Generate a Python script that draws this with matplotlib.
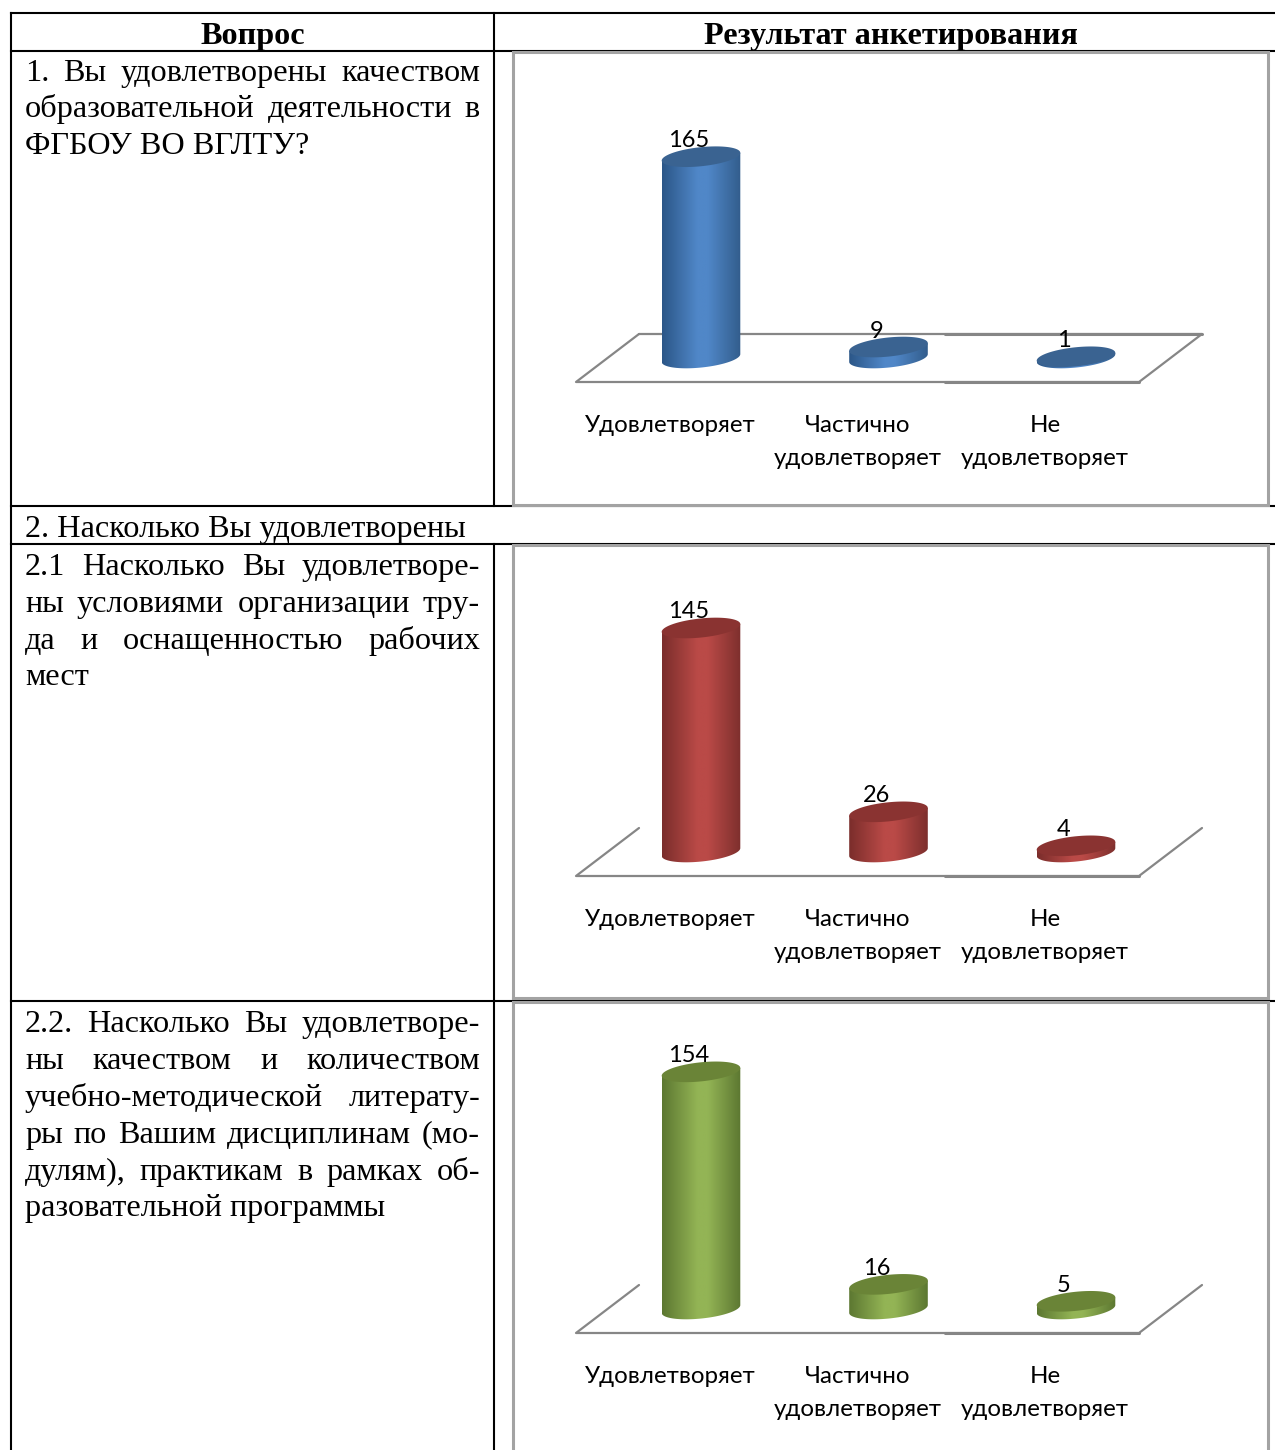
import numpy as np
import matplotlib
matplotlib.use("Agg")
import matplotlib.pyplot as plt
from matplotlib.colors import LinearSegmentedColormap
from matplotlib.patches import Polygon

W, H = 1275, 1450
SERIF = "Liberation Serif"
SANS = ["Lato", "Open Sans", "DejaVu Sans"]

categories = ["Удовлетворяет", "Частично\nудовлетворяет", "Не\nудовлетворяет"]
values_q1 = [165, 9, 1]
values_q21 = [145, 26, 4]
values_q22 = [154, 16, 5]

header_left = "Вопрос"
header_right = "Результат анкетирования"
question_1 = ["1. Вы удовлетворены качеством", "образовательной деятельности в", "ФГБОУ ВО ВГЛТУ?"]
question_2 = ["2. Насколько Вы удовлетворены"]
question_21 = ["2.1 Насколько Вы удовлетворе-", "ны условиями организации тру-",
               "да и оснащенностью рабочих", "мест"]
question_22 = ["2.2. Насколько Вы удовлетворе-", "ны качеством и количеством",
               "учебно-методической литерату-", "ры по Вашим дисциплинам (мо-",
               "дулям), практикам в рамках об-", "разовательной программы"]

blue = dict(edge="#2b5687", mid="#5087c8", right="#325d8c", top="#3a6391")
red = dict(edge="#7a2d2b", mid="#ba4a47", right="#7d2f2d", top="#8a3331")
green = dict(edge="#5c7731", mid="#93b455", right="#5c7731", top="#6a8437")

fig = plt.figure(figsize=(W / 100, H / 100), dpi=100, facecolor="white")
page = fig.add_axes([0, 0, 1, 1], zorder=0)
page.set_xlim(0, W)
page.set_ylim(H, 0)
page.axis("off")

# table rules
BLACK = dict(color="black", lw=1.5, solid_capstyle="projecting")
for y in (13, 51, 506, 544, 1001):
    page.plot([11, W], [y, y], **BLACK)
page.plot([11, 11], [13, H], **BLACK)
page.plot([494, 494], [13, 506], **BLACK)
page.plot([494, 494], [544, H], **BLACK)

# table text
fig.canvas.draw()
renderer = fig.canvas.get_renderer()
FS = 23.2
LEFT, RIGHT = 25, 480


def put_lines(lines, baselines, justify_last=False):
    for i, (line, yb) in enumerate(zip(lines, baselines)):
        last = i == len(lines) - 1
        if last and not justify_last:
            page.text(LEFT, yb, line, family=SERIF, fontsize=FS, va="baseline", ha="left", color="black")
            continue
        words = line.split(" ")
        items = [page.text(0, yb, w, family=SERIF, fontsize=FS, va="baseline", ha="left", color="black")
                 for w in words]
        widths = [t.get_window_extent(renderer).width for t in items]
        gap = (RIGHT - LEFT - sum(widths)) / max(len(words) - 1, 1)
        x = LEFT
        for t, w in zip(items, widths):
            t.set_x(x)
            x += w + gap


page.text(253, 43.7, header_left, family=SERIF, fontsize=FS, weight="bold", ha="center", va="baseline")
page.text(891, 43.7, header_right, family=SERIF, fontsize=FS, weight="bold", ha="center", va="baseline")
put_lines(question_1, [80.7, 117.4, 154.1])
put_lines(question_2, [536.7])
put_lines(question_21, [574.7, 611.7, 648.7, 684.7])
put_lines(question_22, [1031.7, 1068.7, 1105.7, 1142.7, 1179.7, 1215.7])

# chart geometry, in pixels
PX_LEFT, PX_RIGHT = 513, 1268
PX_X0, PX_STEP = 701, 187.5
SEMI_A, SEMI_B, TILT = 39.5, 9.5, np.deg2rad(6)
DEPTH = 24
FLOOR_L, FLOOR_R, SHIFT, SEAM = 576, 1139, 63, 945
LABEL_SHIFT = -31


def ellipse(cx, yv, sx, sy):
    t = np.linspace(0, 2 * np.pi, 181)
    ex = SEMI_A * np.cos(t) * np.cos(TILT) - SEMI_B * np.sin(t) * np.sin(TILT)
    ey = SEMI_A * np.cos(t) * np.sin(TILT) + SEMI_B * np.sin(t) * np.cos(TILT)
    return cx + ex / sx, yv + ey / sy


def chart(values, pal, panel_top, floor_px, scale, back_line):
    panel_bottom = min(panel_top + 453, H + 20)
    page.plot([PX_LEFT, PX_LEFT, PX_RIGHT, PX_RIGHT, PX_LEFT] if panel_bottom < H else [PX_LEFT, PX_LEFT, PX_RIGHT, PX_RIGHT],
              [panel_bottom, panel_top, panel_top, panel_bottom, panel_bottom] if panel_bottom < H else [panel_bottom, panel_top, panel_top, panel_bottom],
              color="#a3a3a3", lw=2.2, solid_joinstyle="miter")
    ax = fig.add_axes([PX_LEFT / W, 1 - floor_px / H, (PX_RIGHT - PX_LEFT) / W, (floor_px - panel_top) / H],
                      zorder=2)
    ax.patch.set_alpha(0)
    xlim = ((PX_LEFT - PX_X0) / PX_STEP, (PX_RIGHT - PX_X0) / PX_STEP)
    ylim = (-DEPTH / scale, (floor_px - DEPTH - panel_top) / scale)
    sx, sy = PX_STEP, scale

    # floor
    fl, fr = (FLOOR_L - PX_X0) / sx, (FLOOR_R - PX_X0) / sx
    seam = (SEAM - PX_X0) / sx
    dx, dy = SHIFT / sx, 2 * DEPTH / sy
    front = -DEPTH / sy
    gray = dict(color="#868686", lw=1.6, clip_on=False, solid_capstyle="round", zorder=1)
    ax.plot([fl + dx, fl, fr, fr + dx], [front + dy, front, front, front + dy], **gray)
    heavy = dict(gray, lw=2.2)
    ax.plot([seam, fr], [front, front], **heavy)
    if back_line:
        ax.plot([fl + dx, fr + dx], [front + dy, front + dy], **gray)
        ax.plot([seam, fr + dx], [front + dy, front + dy], **heavy)

    cmap = LinearSegmentedColormap.from_list(
        "c", [(0, pal["edge"]), (0.45, pal["mid"]), (0.58, pal["mid"]), (1, pal["right"])])
    grad = cmap(np.linspace(0, 1, 256))[None, :, :3]
    for i, v in enumerate(values):
        bx, by = ellipse(i, 0, sx, sy)
        tx, ty = ellipse(i, v, sx, sy)
        # body outline: lower half of base + upper half of cap
        li, ri = np.argmin(bx), np.argmax(bx)
        order = np.roll(np.arange(len(bx)), -li)
        stop = int(np.where(order == ri)[0][0])
        low_side = order[:stop + 1] if by[order[:stop + 1]].mean() < 0 else order[stop:]
        if low_side[0] != ri:
            low_x, low_y = bx[low_side], by[low_side]
        else:
            low_x, low_y = bx[low_side][::-1], by[low_side][::-1]
        outline = np.column_stack([np.r_[low_x, low_x[-1], low_x[0]],
                                   np.r_[low_y, v + low_y[-1], v + low_y[0]]])
        body = Polygon(outline, closed=True, transform=ax.transData, fc="none", ec="none")
        ax.add_patch(body)
        im = ax.imshow(grad, extent=(bx.min(), bx.max(), -SEMI_B * 2 / sy, v + SEMI_B * 2 / sy),
                       aspect="auto", zorder=3, interpolation="bilinear")
        im.set_clip_path(body)
        ax.add_patch(Polygon(np.column_stack([tx, ty]), closed=True, fc=pal["top"], ec="none", zorder=4))
        ax.annotate(str(v), (i, v), xytext=(-12 * 0.72, 16 * 0.72), textcoords="offset points",
                    ha="center", va="center", family=SANS, fontsize=17, color="black", zorder=5)

    ax.set_xlim(*xlim)
    ax.set_ylim(*ylim)
    ax.set_xticks(np.arange(len(categories)) + LABEL_SHIFT / sx)
    ax.set_xticklabels(categories, family=SANS, fontsize=17.4, linespacing=1.73, color="black")
    ax.tick_params(axis="x", length=0, pad=23.5)
    ax.set_yticks([])
    for s in ax.spines.values():
        s.set_visible(False)


chart(values_q1, blue, 52, 382, 1.22, True)
chart(values_q21, red, 545, 876, 1.545, False)
chart(values_q22, green, 1002, 1333, 1.54, False)

fig.savefig("out.png", dpi=100, facecolor="white")
